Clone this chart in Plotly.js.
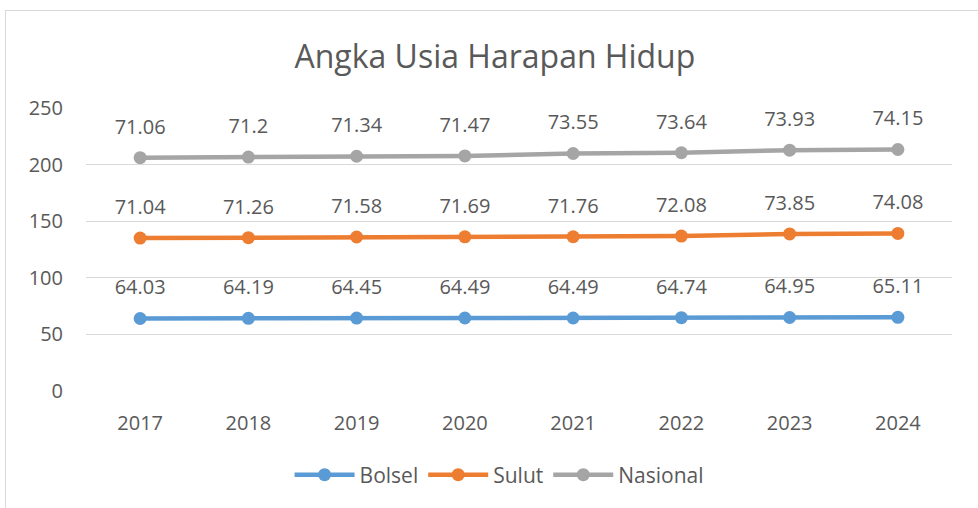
<!DOCTYPE html>
<html><head><meta charset="utf-8">
<script src="https://cdn.plot.ly/plotly-3.0.1.min.js"></script>
<style>
html,body{margin:0;padding:0;background:#fff;overflow:hidden;}
#frame{position:absolute;left:5px;top:10px;width:1100px;height:700px;border:1.5px solid #d9d9d9;box-sizing:border-box;}
#chart{position:absolute;left:0;top:0;width:978px;height:508px;}
</style></head>
<body>
<div id="frame"></div>
<div id="chart"></div>
<script>
const years = ['2017','2018','2019','2020','2021','2022','2023','2024'];
const bolsel = [64.03,64.19,64.45,64.49,64.49,64.74,64.95,65.11];
const sulut = [71.04,71.26,71.58,71.69,71.76,72.08,73.85,74.08];
const nasional = [71.06,71.2,71.34,71.47,73.55,73.64,73.93,74.15];
const yTicks = [0,50,100,150,200,250];

const series = [
  {name:'Bolsel', y:bolsel, color:'#5b9bd5'},
  {name:'Sulut', y:sulut, color:'#ed7d31'},
  {name:'Nasional', y:nasional, color:'#a5a5a5'}
];
const txt = '#595959';
const fnt = '"Open Sans", "Noto Sans", sans-serif';

const traces = series.map(s => ({
  type:'scatter', mode:'lines+markers', name:s.name, x:years, y:s.y,
  stackgroup:'one', fill:'none',
  line:{color:s.color, width:4.5}, marker:{color:s.color, size:13},
  hoverinfo:'x+y'
}));

// data labels above each stacked point (invisible large marker pushes text up)
const cum = years.map(()=>0);
series.forEach(s => {
  const ys = s.y.map((v,i) => (cum[i] += v));
  traces.push({
    type:'scatter', mode:'markers+text', x:years, y:ys.slice(),
    text:s.y.map(String), textposition:'top center',
    textfont:{size:20, color:txt, family:fnt},
    marker:{size:29, opacity:0, color:'rgba(0,0,0,0)'},
    showlegend:false, hoverinfo:'skip'
  });
});

const layout = {
  width:978, height:508,
  margin:{l:86, r:26, t:108, b:117},
  paper_bgcolor:'rgba(0,0,0,0)', plot_bgcolor:'rgba(0,0,0,0)',
  font:{family:fnt, color:txt},
  title:{text:'Angka Usia Harapan Hidup', x:0.506, xanchor:'center', y:0.888, yanchor:'middle',
    font:{size:32, color:txt, family:fnt}},
  xaxis:{type:'category', range:[-0.5,7.5], showgrid:false, zeroline:false, showline:false,
    ticks:'', tickfont:{size:20, color:txt}, ticklabelstandoff:18},
  yaxis:{range:[0,250], tickvals:yTicks, showgrid:true, gridcolor:'#d9d9d9', gridwidth:1.3,
    zeroline:false, showline:false, ticks:'', tickfont:{size:20, color:txt}, ticklabelstandoff:22},
  showlegend:true,
  legend:{orientation:'h', x:0.477, xanchor:'center', y:-0.297, yanchor:'middle',
    font:{size:21, color:txt}, traceorder:'normal', itemwidth:60}
};
Plotly.newPlot('chart', traces, layout, {displayModeBar:false, staticPlot:true});
</script>
</body></html>
